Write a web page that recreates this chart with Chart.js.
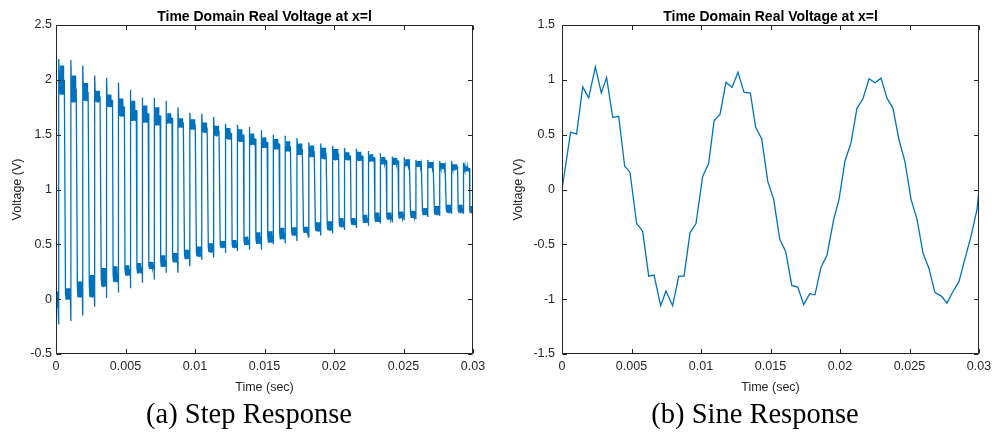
<!DOCTYPE html>
<html>
<head>
<meta charset="utf-8">
<script src="https://cdn.jsdelivr.net/npm/chart.js@4.4.0/dist/chart.umd.min.js"></script>
<style>
  body { margin: 0; background: #fff; width: 997px; height: 435px; position: relative; overflow: hidden; }
  canvas { position: absolute; top: 0; }
  #graficoEscalon { left: 0; }
  #graficoSeno { left: 498px; }
  .pie { position: absolute; top: 397px; width: 300px; text-align: center; font-family: "Liberation Serif", "Times New Roman", serif; font-size: 28.5px; line-height: 34px; color: #000; }
</style>
</head>
<body>
<canvas id="graficoEscalon" width="498" height="400"></canvas>
<canvas id="graficoSeno" width="499" height="400"></canvas>
<div class="pie" style="left: 99px">(a) Step Response</div>
<div class="pie" style="left: 605px">(b) Sine Response</div>
<script>
// --- datos ---

// respuesta al escalon: flancos cada PASO_FLANCO segundos
const PRIMER_FLANCO = 0.000214;
const PASO_FLANCO = 0.000428;
const T_FINAL = 0.03;

// mesetas altas (35): pico al subir, borde superior e inferior del ruido
const altoPico = [2.19, 2.18, 2.13, 2.04, 2.02, 1.975, 1.91, 1.84, 1.835, 1.81,
  1.75, 1.70, 1.69, 1.66, 1.60, 1.59, 1.57, 1.54, 1.50, 1.49,
  1.47, 1.43, 1.42, 1.40, 1.38, 1.37, 1.35, 1.33, 1.30, 1.295,
  1.27, 1.27, 1.26, 1.26, 1.245];
const altoSup = [2.13, 2.04, 1.97, 1.90, 1.865, 1.83, 1.81, 1.765, 1.75, 1.695,
  1.65, 1.64, 1.61, 1.58, 1.56, 1.55, 1.51, 1.475, 1.46, 1.44,
  1.42, 1.40, 1.38, 1.37, 1.34, 1.345, 1.32, 1.295, 1.29, 1.275,
  1.26, 1.25, 1.24, 1.23, 1.21];
const altoInf = [1.87, 1.80, 1.81, 1.80, 1.755, 1.67, 1.63, 1.615, 1.59, 1.605,
  1.57, 1.55, 1.52, 1.49, 1.46, 1.44, 1.41, 1.385, 1.37, 1.35,
  1.32, 1.30, 1.28, 1.27, 1.27, 1.265, 1.26, 1.235, 1.23, 1.215,
  1.21, 1.20, 1.19, 1.18, 1.17];

// mesetas bajas (36): borde superior, inferior y caida antes de subir
const bajoSup = [0.07, 0.10, 0.16, 0.22, 0.285, 0.30, 0.31, 0.33, 0.34, 0.40,
  0.42, 0.45, 0.48, 0.51, 0.53, 0.54, 0.57, 0.61, 0.62, 0.65,
  0.655, 0.66, 0.70, 0.71, 0.74, 0.74, 0.77, 0.79, 0.79, 0.80,
  0.805, 0.83, 0.85, 0.86, 0.86, 0.85];
const bajoInf = [-0.07, 0.00, 0.02, 0.02, 0.115, 0.16, 0.22, 0.24, 0.28, 0.30,
  0.34, 0.37, 0.39, 0.43, 0.47, 0.47, 0.50, 0.51, 0.52, 0.55,
  0.585, 0.61, 0.62, 0.63, 0.66, 0.68, 0.70, 0.71, 0.73, 0.74,
  0.745, 0.77, 0.77, 0.79, 0.79, 0.79];
const bajoCaida = [-0.23, -0.20, -0.15, -0.07, 0.01, 0.06, 0.10, 0.15, 0.18, 0.24,
  0.24, 0.30, 0.36, 0.38, 0.42, 0.44, 0.45, 0.45, 0.50, 0.51,
  0.53, 0.56, 0.58, 0.60, 0.63, 0.65, 0.67, 0.69, 0.70, 0.72,
  0.73, 0.75, 0.76, 0.78, 0.78];

// respuesta a la senoidal
const senoTiempo = [0, 0.00062, 0.00105, 0.00149, 0.00192, 0.0024, 0.00283, 0.00321, 0.00365, 0.00408,
  0.00451, 0.00489, 0.00537, 0.0058, 0.00624, 0.00662, 0.0071, 0.00748, 0.00796, 0.0084,
  0.00878, 0.00921, 0.00964, 0.01012, 0.01055, 0.01094, 0.01137, 0.0118, 0.01223, 0.01266,
  0.01309, 0.01355, 0.01393, 0.01437, 0.0148, 0.01523, 0.01566, 0.0161, 0.01653, 0.01696,
  0.01739, 0.01782, 0.0182, 0.01863, 0.01906, 0.01955, 0.01993, 0.02036, 0.02079, 0.02122,
  0.02165, 0.02209, 0.02252, 0.02295, 0.02338, 0.02381, 0.02424, 0.02468, 0.02511, 0.02554,
  0.02597, 0.0264, 0.02683, 0.02727, 0.0277, 0.02813, 0.02856, 0.02899, 0.02942, 0.02986, 0.03];
const senoVoltaje = [0, 0.523, 0.505, 0.936, 0.836, 1.118, 0.88, 1.02, 0.656, 0.668,
  0.212, 0.158, -0.31, -0.38, -0.79, -0.78, -1.06, -0.925, -1.06, -0.79,
  -0.79, -0.395, -0.31, 0.12, 0.237, 0.626, 0.687, 0.978, 0.93, 1.07,
  0.887, 0.88, 0.57, 0.46, 0.076, -0.09, -0.45, -0.57, -0.875, -0.89,
  -1.05, -0.95, -0.96, -0.71, -0.60, -0.27, -0.09, 0.26, 0.425, 0.74,
  0.827, 1.01, 0.973, 1.015, 0.833, 0.74, 0.456, 0.25, -0.09, -0.27,
  -0.58, -0.72, -0.94, -0.97, -1.035, -0.93, -0.84, -0.63, -0.43, -0.18, 0];

// ejes
const ticksTiempo = { min: 0, max: 0.03, paso: 0.005 };
const ticksEscalon = { min: -0.5, max: 2.5, paso: 0.5 };
const ticksSeno = { min: -1.5, max: 1.5, paso: 0.5 };

// --- dibujo ---
const AZUL = '#0072BD';
const GRIS = '#262626';
const LARGO_TICK = 4.5;
// fracciones de cada meseta donde se dibuja el ruido (alterna bajo/alto)
const RELLENO = [0.2, 0.26, 0.32, 0.38, 0.44, 0.5, 0.56, 0.62, 0.68, 0.74, 0.8];

Chart.defaults.font.family = '"Liberation Sans", Arial, Helvetica, sans-serif';
Chart.defaults.font.size = 12.5;
Chart.defaults.color = GRIS;

function flanco(j) {
  return PRIMER_FLANCO + j * PASO_FLANCO;
}

// meseta: linea fina en los extremos y ruido en el centro
function meseta(puntos, ini, fin, bajo, alto) {
  const nivel = (bajo + alto) / 2;
  puntos.push({ x: ini + 0.1 * (fin - ini), y: nivel });
  RELLENO.forEach((f, i) => puntos.push({ x: ini + f * (fin - ini), y: i % 2 ? alto : bajo }));
  puntos.push({ x: ini + 0.9 * (fin - ini), y: nivel });
  puntos.push({ x: fin, y: nivel });
}

function serieEscalon() {
  const puntos = [{ x: 0, y: bajoInf[0] }];
  for (let k = 0; k < bajoSup.length; k++) {
    const ini = k === 0 ? 0 : flanco(2 * k - 1);
    const fin = k < altoPico.length ? flanco(2 * k) : T_FINAL;
    meseta(puntos, ini, fin, bajoInf[k], bajoSup[k]);
    if (k < altoPico.length) {
      // flanco de subida con sobrepico
      puntos.push({ x: fin, y: bajoCaida[k] });
      puntos.push({ x: fin, y: altoPico[k] });
      meseta(puntos, fin, flanco(2 * k + 1), altoInf[k], altoSup[k]);
    }
  }
  return puntos;
}

function etiqueta(v) {
  return String(Number(v.toFixed(4)));
}

// marco estilo matlab con ticks hacia adentro y titulo centrado
const marco = {
  id: 'marco',
  afterDraw(chart, args, opts) {
    const { ctx, chartArea: a } = chart;
    const sx = chart.scales.x, sy = chart.scales.y;
    const l = Math.round(a.left) + 0.5, r = Math.round(a.right) - 0.5;
    const t = Math.round(a.top) + 0.5, b = Math.round(a.bottom) - 0.5;
    ctx.save();
    ctx.strokeStyle = GRIS;
    ctx.lineWidth = 1;
    ctx.beginPath();
    ctx.rect(l, t, r - l, b - t);
    sx.ticks.forEach(tk => {
      const px = Math.round(sx.getPixelForValue(tk.value)) + 0.5;
      ctx.moveTo(px, b); ctx.lineTo(px, b - LARGO_TICK);
      ctx.moveTo(px, t); ctx.lineTo(px, t + LARGO_TICK);
    });
    sy.ticks.forEach(tk => {
      const py = Math.round(sy.getPixelForValue(tk.value)) + 0.5;
      ctx.moveTo(l, py); ctx.lineTo(l + LARGO_TICK, py);
      ctx.moveTo(r, py); ctx.lineTo(r - LARGO_TICK, py);
    });
    ctx.stroke();
    ctx.fillStyle = '#000';
    ctx.font = 'bold 14px "Liberation Sans", Arial, sans-serif';
    ctx.textAlign = 'center';
    ctx.textBaseline = 'alphabetic';
    ctx.fillText(opts.titulo, (a.left + a.right) / 2, a.top - 4);
    ctx.restore();
  }
};

function crearGrafica(id, datos, rangoY, ancho) {
  const config = {
    type: 'line',
    data: {
      datasets: [{
        data: datos,
        borderColor: AZUL,
        borderWidth: ancho.linea,
        pointRadius: 0,
        tension: 0,
        fill: false
      }]
    },
    options: {
      responsive: false,
      animation: false,
      layout: { padding: { top: 25, right: ancho.derecha, left: 0, bottom: 0 } },
      plugins: {
        legend: { display: false },
        tooltip: { enabled: false },
        marco: { titulo: 'Time Domain Real Voltage at x=l' }
      },
      scales: {
        x: {
          type: 'linear',
          min: ticksTiempo.min,
          max: ticksTiempo.max,
          ticks: { stepSize: ticksTiempo.paso, padding: 5.5, maxRotation: 0, callback: etiqueta },
          grid: { display: false, drawTicks: false },
          border: { display: false },
          title: { display: true, text: 'Time (sec)', padding: { top: 0, bottom: 5 } },
          afterFit: s => { s.height = 46; }
        },
        y: {
          min: rangoY.min,
          max: rangoY.max,
          ticks: { stepSize: rangoY.paso, padding: ancho.pad, callback: etiqueta },
          grid: { display: false, drawTicks: false },
          border: { display: false },
          title: { display: true, text: 'Voltage (V)', padding: { top: ancho.titulo, bottom: 0 } },
          afterFit: s => { s.width = ancho.eje; }
        }
      }
    },
    plugins: [marco]
  };
  return new Chart(document.getElementById(id), config);
}

crearGrafica('graficoEscalon', serieEscalon(), ticksEscalon,
  { linea: 1.3, derecha: 25, eje: 56, pad: 4, titulo: 10.5 });
crearGrafica('graficoSeno', senoTiempo.map((t, i) => ({ x: t, y: senoVoltaje[i] })), ticksSeno,
  { linea: 1.3, derecha: 18, eje: 64, pad: 7, titulo: 13.5 });
</script>
</body>
</html>
